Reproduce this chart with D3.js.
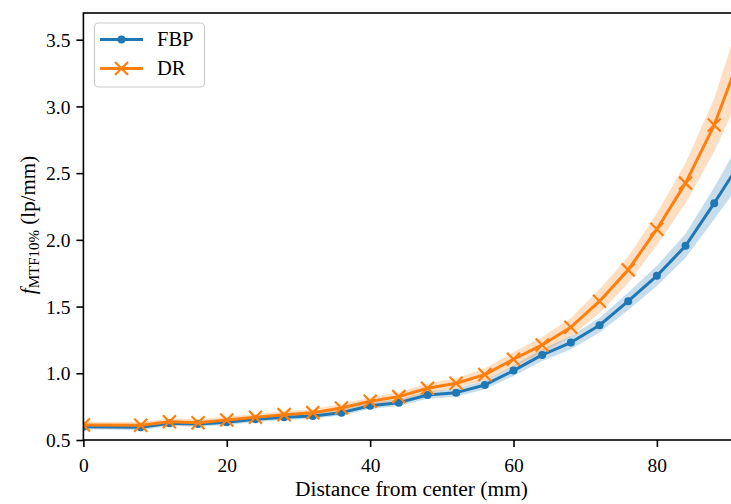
<!DOCTYPE html>
<html><head><meta charset="utf-8">
<script src="https://cdn.jsdelivr.net/npm/d3@7"></script>
<style>body{margin:0;background:#fff}svg{display:block}text{font-family:"Liberation Serif","DejaVu Serif",serif;fill:#000}</style>
</head><body><svg id="c" width="731" height="504"></svg>
<script>
const distances = [0, 8, 12, 16, 20, 24, 28, 32, 36, 40, 44, 48, 52, 56, 60, 64, 68, 72, 76, 80, 84, 88, 92];
const fbpValues = [0.60, 0.595, 0.625, 0.62, 0.633, 0.655, 0.67, 0.68, 0.705, 0.757, 0.78, 0.8375, 0.855, 0.9125, 1.02, 1.1375, 1.23, 1.36, 1.54, 1.73, 1.955, 2.275, 2.61];
const fbpSpread = [0.02, 0.02, 0.02, 0.02, 0.02, 0.02, 0.02, 0.02, 0.022, 0.025, 0.025, 0.028, 0.03, 0.033, 0.04, 0.045, 0.05, 0.055, 0.065, 0.075, 0.09, 0.12, 0.16];
const drValues = [0.6125, 0.61, 0.637, 0.63, 0.65, 0.67, 0.69, 0.705, 0.74, 0.79, 0.825, 0.888, 0.925, 0.99, 1.105, 1.2125, 1.345, 1.54, 1.775, 2.08, 2.425, 2.86, 3.43];
const drSpread = [0.025, 0.025, 0.025, 0.025, 0.025, 0.025, 0.026, 0.028, 0.028, 0.03, 0.032, 0.035, 0.038, 0.045, 0.055, 0.06, 0.07, 0.09, 0.1, 0.12, 0.15, 0.2, 0.3];
const xTicks = [0, 20, 40, 60, 80];
const yTicks = [0.5, 1.0, 1.5, 2.0, 2.5, 3.0, 3.5];
const seriesNames = ["FBP", "DR"];
const colors = ["#1f77b4", "#ff7f0e"];

const svg = d3.select("#c");
const L = 83.4, R = 732.5, T = 13, B = 440;
const x = d3.scaleLinear().domain([0, 90.55]).range([L, R]);
const y = d3.scaleLinear().domain([0.5, 3.7]).range([B, T]);

svg.append("defs").append("clipPath").attr("id", "clip")
  .append("rect").attr("x", L).attr("y", T).attr("width", R - L).attr("height", B - T);

const g = svg.append("g").attr("clip-path", "url(#clip)");
const series = [
  {vals: fbpValues, err: fbpSpread, color: colors[0], marker: "dot"},
  {vals: drValues, err: drSpread, color: colors[1], marker: "x"}
];
series.forEach(s => {
  const data = distances.map((d, i) => ({d, v: s.vals[i], e: s.err[i]}));
  g.append("path").datum(data)
    .attr("d", d3.area().x(p => x(p.d)).y0(p => y(p.v - p.e)).y1(p => y(p.v + p.e)))
    .attr("fill", s.color).attr("fill-opacity", 0.25).attr("stroke", "none");
});
series.forEach(s => {
  const data = distances.map((d, i) => ({d, v: s.vals[i]}));
  g.append("path").datum(data)
    .attr("d", d3.line().x(p => x(p.d)).y(p => y(p.v)))
    .attr("fill", "none").attr("stroke", s.color).attr("stroke-width", 3).attr("stroke-linejoin", "round");
  if (s.marker === "dot") {
    g.selectAll(null).data(data).enter().append("circle")
      .attr("cx", p => x(p.d)).attr("cy", p => y(p.v)).attr("r", 4).attr("fill", s.color);
  } else {
    const h = 6.5;
    g.selectAll(null).data(data).enter().append("path")
      .attr("d", p => `M${x(p.d)-h},${y(p.v)-h}L${x(p.d)+h},${y(p.v)+h}M${x(p.d)-h},${y(p.v)+h}L${x(p.d)+h},${y(p.v)-h}`)
      .attr("stroke", s.color).attr("stroke-width", 2.2).attr("fill", "none");
  }
});

// axes
const xAxis = svg.append("g").attr("transform", `translate(0,${B})`)
  .call(d3.axisBottom(x).tickValues(xTicks).tickSize(7).tickPadding(6).tickFormat(d3.format("d")));
const yAxis = svg.append("g").attr("transform", `translate(${L},0)`)
  .call(d3.axisLeft(y).tickValues(yTicks).tickSize(7).tickPadding(6).tickFormat(d3.format(".1f")));
[xAxis, yAxis].forEach(a => {
  a.select(".domain").remove();
  a.selectAll("line").attr("stroke", "#000").attr("stroke-width", 1.6);
  a.selectAll("text").attr("font-size", 19.5).attr("fill", "#000");
});
xAxis.selectAll("text").attr("dy", "0.95em");
yAxis.selectAll("text").attr("dy", "0.34em");

// spines
svg.append("rect").attr("x", L).attr("y", T).attr("width", R - L).attr("height", B - T)
  .attr("fill", "none").attr("stroke", "#000").attr("stroke-width", 1.6);

// axis labels
svg.append("text").attr("x", 411.5).attr("y", 496).attr("text-anchor", "middle")
  .attr("font-size", 20).attr("textLength", 233).attr("lengthAdjust", "spacingAndGlyphs")
  .text("Distance from center (mm)");
const yl = svg.append("text").attr("transform", `translate(35,225) rotate(-90)`)
  .attr("text-anchor", "middle").attr("font-size", 21);
yl.append("tspan").attr("font-style", "italic").text("f");
yl.append("tspan").attr("font-size", 15).attr("dy", 4).text("MTF10%");
yl.append("tspan").attr("dy", -4).text("\u00a0(lp/mm)");

// legend
const lg = svg.append("g");
lg.append("rect").attr("x", 94.5).attr("y", 23).attr("width", 110).attr("height", 64).attr("rx", 4)
  .attr("fill", "#fff").attr("fill-opacity", 0.8).attr("stroke", "#cccccc").attr("stroke-width", 1.2);
seriesNames.forEach((n, i) => {
  const yy = 39.5 + i * 29;
  lg.append("line").attr("x1", 100).attr("x2", 143).attr("y1", yy).attr("y2", yy)
    .attr("stroke", colors[i]).attr("stroke-width", 3);
  if (i === 0) {
    lg.append("circle").attr("cx", 121.5).attr("cy", yy).attr("r", 4).attr("fill", colors[i]);
  } else {
    const h = 6.5;
    lg.append("path").attr("d", `M${121.5-h},${yy-h}L${121.5+h},${yy+h}M${121.5-h},${yy+h}L${121.5+h},${yy-h}`)
      .attr("stroke", colors[i]).attr("stroke-width", 2.2);
  }
  lg.append("text").attr("x", 157).attr("y", yy + 6.5).attr("font-size", 20.5).text(n);
});
</script></body></html>
